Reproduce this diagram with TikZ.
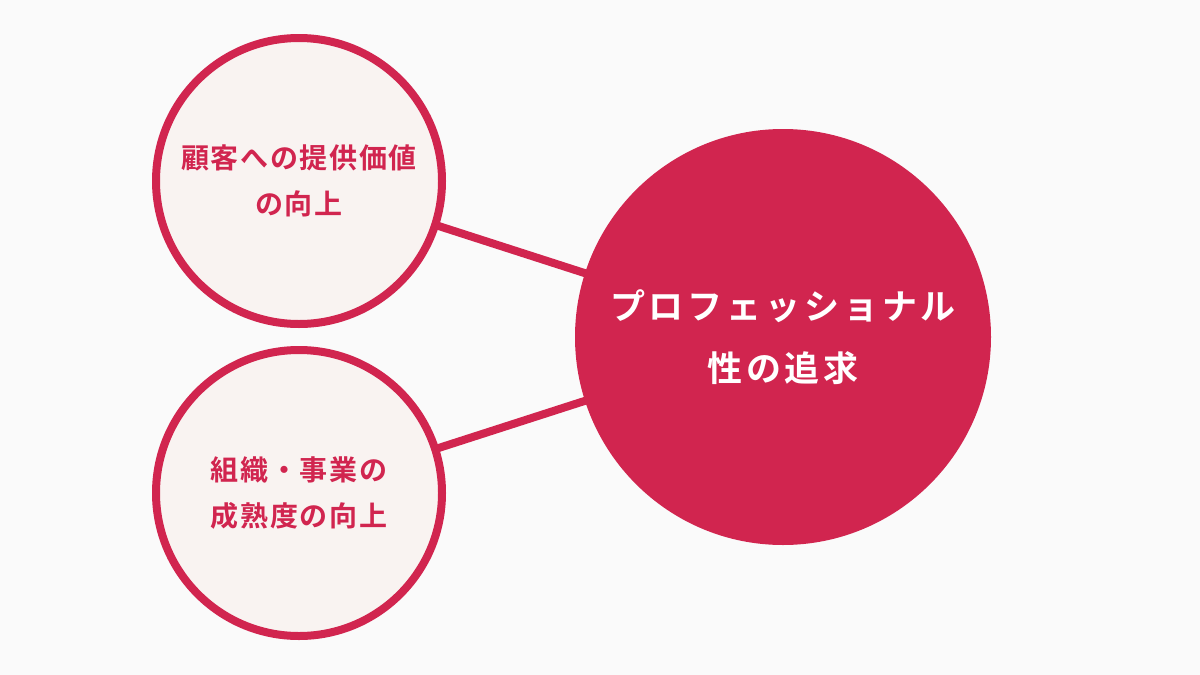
\documentclass[tikz,border=0pt]{standalone}
\usepackage{fontspec}
\newfontfamily\jpfont{Noto Sans CJK JP}[BoldFont={* Bold}]
\definecolor{crim}{HTML}{D1254F}
\definecolor{pale}{HTML}{F9F3F1}
\definecolor{bg}{HTML}{FAFAFA}
\begin{document}
\begin{tikzpicture}[x=1pt,y=-1pt,
  small/.style={circle,draw=crim,line width=8pt,fill=pale,minimum size=286pt,inner sep=0pt,
    text=crim,align=center,font=\jpfont\bfseries\fontsize{28}{46}\selectfont\addfontfeatures{LetterSpace=6}},
  big/.style={circle,fill=crim,minimum size=416pt,inner sep=0pt,
    text=white,align=center,font=\jpfont\bfseries\fontsize{35}{62}\selectfont\addfontfeatures{LetterSpace=11}},
  link/.style={draw=crim,line width=8pt}]
\fill[bg] (0,0) rectangle (1200,675);
\useasboundingbox (0,0) rectangle (1200,675);
\coordinate (ca) at (299,181);
\coordinate (cb) at (299,493);
\coordinate (cc) at (783,337);
\draw[link] (ca) -- (cc);
\draw[link] (cb) -- (cc);
\node[small] (a) at (ca) {顧客への提供価値\\の向上};
\node[small] (b) at (cb) {組織・事業の\\成熟度の向上};
\node[big] (c) at (cc) {プロフェッショナル\\性の追求};
\end{tikzpicture}
\end{document}
